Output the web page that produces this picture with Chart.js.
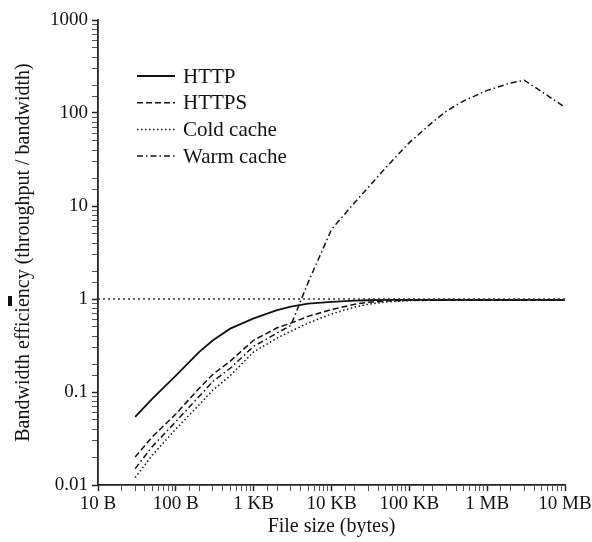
<!DOCTYPE html>
<html>
<head>
<meta charset="utf-8">
<script src="https://cdn.jsdelivr.net/npm/chart.js@4.4.1/dist/chart.umd.min.js"></script>
<style>
  html, body { margin: 0; padding: 0; background: #fff; }
  #wrap { width: 592px; height: 542px; }
</style>
</head>
<body>
<div id="wrap"><canvas id="chart"></canvas></div>
<script>
'use strict';

// file sizes in bytes
var fileSizes = [30, 50, 100, 200, 300, 500, 1e3, 2e3, 3e3, 5e3, 1e4, 2e4, 3e4, 5e4,
                 1e5, 2e5, 3e5, 5e5, 1e6, 2e6, 3e6, 5e6, 1e7];

var httpValues  = [0.054, 0.085, 0.15, 0.27, 0.36, 0.48, 0.62, 0.76, 0.83, 0.89, 0.93, 0.96,
                   0.97, 0.98, 0.98, 0.98, 0.98, 0.98, 0.98, 0.98, 0.98, 0.98, 0.98];
var httpsValues = [0.02, 0.033, 0.058, 0.11, 0.155, 0.215, 0.36, 0.49, 0.55, 0.65, 0.77, 0.88,
                   0.92, 0.95, 0.97, 0.97, 0.97, 0.97, 0.97, 0.97, 0.97, 0.97, 0.97];
var coldValues  = [0.012, 0.021, 0.04, 0.073, 0.105, 0.15, 0.27, 0.38, 0.45, 0.55, 0.69, 0.82,
                   0.88, 0.93, 0.96, 0.97, 0.97, 0.97, 0.97, 0.97, 0.97, 0.97, 0.97];
var warmValues  = [0.015, 0.026, 0.048, 0.09, 0.13, 0.18, 0.31, 0.43, 0.52, 1.5, 5.6, 11,
                   16, 26, 48, 80, 105, 135, 175, 210, 225, 170, 115];

// efficiency = 1 reference line
var refSizes = [10, 1e7];
var refValues = [1, 1];

var xTickLabels = ['10 B', '100 B', '1 KB', '10 KB', '100 KB', '1 MB', '10 MB'];
var yTickLabels = ['0.01', '0.1', '1', '10', '100', '1000'];

var serif = "'Liberation Serif', 'Times New Roman', serif";

function points(xs, ys) {
    return xs.map(function(x, i) { return { x: x, y: ys[i] }; });
}

function decade(v) {
    var e = Math.log10(v);
    var r = Math.round(e);
    return Math.abs(e - r) < 1e-6 ? r : null;
}

function series(label, values, dash, width) {
    return {
        label: label,
        data: points(fileSizes, values),
        borderColor: '#111',
        borderWidth: width,
        borderDash: dash,
        pointRadius: 0,
        tension: 0,
        fill: false
    };
}

// legend drawn inside the plot, upper left
var insideLegend = {
    id: 'insideLegend',
    afterDatasetsDraw: function(chart) {
        var ctx = chart.ctx;
        var area = chart.chartArea;
        var x0 = area.left + 39;
        var y0 = area.top + 56;
        var row = 0;
        ctx.save();
        ctx.font = '21px ' + serif;
        ctx.textBaseline = 'middle';
        ctx.fillStyle = '#111';
        chart.data.datasets.forEach(function(ds) {
            if (!ds.label) return;
            var y = y0 + row * 26.7;
            ctx.strokeStyle = ds.borderColor;
            ctx.lineWidth = ds.borderWidth;
            ctx.setLineDash(ds.borderDash || []);
            ctx.beginPath();
            ctx.moveTo(x0, y);
            ctx.lineTo(x0 + 38, y);
            ctx.stroke();
            ctx.setLineDash([]);
            ctx.fillText(ds.label, x0 + 46, y + 1);
            row++;
        });
        // small dark mark left of the axis title, as in the scan
        ctx.fillRect(8, 296, 4, 10);
        ctx.restore();
    }
};

var axisFont = { family: serif, size: 19 };

var chart = new Chart(document.getElementById('chart'), {
    type: 'line',
    data: {
        datasets: [
            {
                label: '',
                data: points(refSizes, refValues),
                borderColor: '#333',
                borderWidth: 1.3,
                borderDash: [2, 3],
                pointRadius: 0
            },
            series('HTTP', httpValues, [], 1.8),
            series('HTTPS', httpsValues, [6, 3], 1.5),
            series('Cold cache', coldValues, [1.5, 2.5], 1.5),
            series('Warm cache', warmValues, [6, 3, 1.5, 3], 1.5)
        ]
    },
    options: {
        responsive: true,
        maintainAspectRatio: false,
        animation: false,
        layout: { padding: { top: 20, right: 27, bottom: 0, left: 0 } },
        plugins: {
            legend: { display: false },
            tooltip: { enabled: false }
        },
        scales: {
            x: {
                type: 'logarithmic',
                position: 'bottom',
                min: 10,
                max: 1e7,
                grid: {
                    drawOnChartArea: false,
                    drawTicks: true,
                    tickLength: 6,
                    tickColor: function(c) { return c.tick && c.tick.major ? '#222' : '#555'; },
                    tickWidth: function(c) { return c.tick && c.tick.major ? 1.5 : 1; }
                },
                border: { display: true, color: '#222', width: 1.8 },
                ticks: {
                    autoSkip: false,
                    maxRotation: 0,
                    padding: 2,
                    color: '#111',
                    font: axisFont,
                    callback: function(v) {
                        var e = decade(v);
                        return e === null ? '' : xTickLabels[e - 1];
                    }
                },
                title: {
                    display: true,
                    text: 'File size (bytes)',
                    color: '#111',
                    font: { family: serif, size: 20 },
                    padding: { top: 0, bottom: 3 }
                },
                afterFit: function(s) {
                    s.height = 57;
                    s.paddingLeft = 0;
                    s.paddingRight = 0;
                }
            },
            y: {
                type: 'logarithmic',
                min: 0.01,
                max: 1000,
                grid: {
                    drawOnChartArea: false,
                    drawTicks: true,
                    tickLength: 6,
                    tickColor: function(c) { return c.tick && c.tick.major ? '#222' : '#555'; },
                    tickWidth: function(c) { return c.tick && c.tick.major ? 1.5 : 1; }
                },
                border: { display: true, color: '#222', width: 1.8 },
                ticks: {
                    autoSkip: false,
                    padding: 4,
                    color: '#111',
                    font: axisFont,
                    callback: function(v) {
                        var e = decade(v);
                        return e === null ? '' : yTickLabels[e + 2];
                    }
                },
                title: {
                    display: true,
                    text: 'Bandwidth efficiency (throughput / bandwidth)',
                    color: '#111',
                    font: { family: serif, size: 20 },
                    padding: { top: 12, bottom: 0 }
                },
                afterFit: function(s) {
                    s.width = 98;
                    s.paddingTop = 0;
                    s.paddingBottom = 0;
                }
            }
        }
    },
    plugins: [insideLegend]
});
</script>
</body>
</html>
